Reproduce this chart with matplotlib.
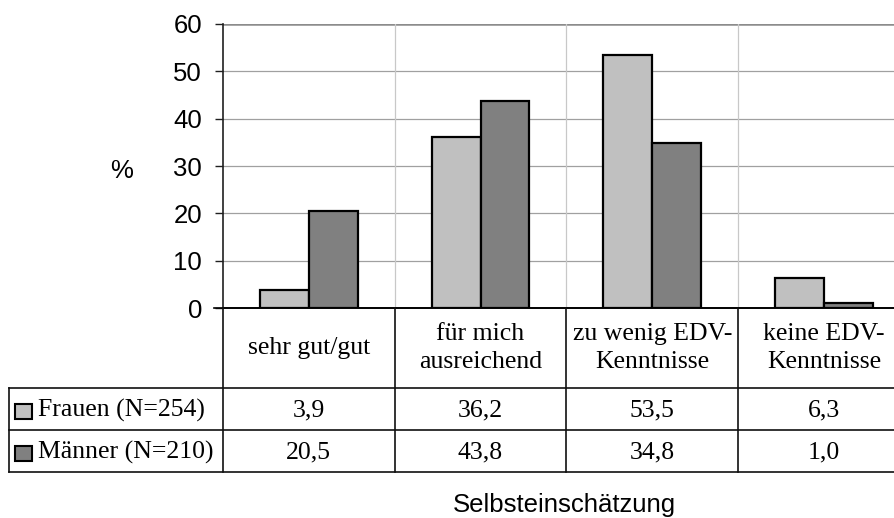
import matplotlib
matplotlib.use('Agg')
import matplotlib.pyplot as plt
from matplotlib.patches import Rectangle

# Selbsteinschätzung der EDV-Kenntnisse, Angaben in %
kategorien = ['sehr gut/gut', 'für mich\nausreichend', 'zu wenig EDV-\nKenntnisse', 'keine EDV-\nKenntnisse']
frauen = [3.9, 36.2, 53.5, 6.3]
maenner = [20.5, 43.8, 34.8, 1.0]
reihen = ['Frauen (N=254)', 'Männer (N=210)']
farben = ['#c0c0c0', '#808080']
yticks = [0, 10, 20, 30, 40, 50, 60]

W, H = 894, 518
fig = plt.figure(figsize=(W / 100, H / 100), dpi=100)

# Pixelgeometrie (von oben gemessen)
x0, x_lab = 223, 9
cat_w = 171.7
y_top, y_null, y_kopf, y_r1, y_r2 = 24, 308, 388, 430, 472
x_end = x0 + 4 * cat_w

ax = fig.add_axes([x0 / W, (H - y_null) / H, (x_end - x0) / W, (y_null - y_top) / H])
ax.set_xlim(0, 4)
ax.set_ylim(0, 60)

# Gitternetz
for v in yticks[1:-1]:
    ax.axhline(v, color='#a0a0a0', lw=0.9, zorder=0)
ax.axhline(60, color='#8c8c8c', lw=1.8, zorder=0)
for i in range(1, 4):
    ax.axvline(i, color='#c8c8c8', lw=0.9, zorder=0)

bw = 0.285
xs = [i + 0.5 for i in range(4)]
ax.bar([x - bw / 2 for x in xs], frauen, bw, color=farben[0], edgecolor='black', lw=1.6, zorder=3)
ax.bar([x + bw / 2 for x in xs], maenner, bw, color=farben[1], edgecolor='black', lw=1.6, zorder=3)

for s in ['top', 'right', 'bottom']:
    ax.spines[s].set_visible(False)
ax.spines['left'].set_color('#202020')
ax.spines['left'].set_linewidth(1.2)
ax.set_xticks([])
ax.set_yticks(yticks)
ax.tick_params(axis='y', length=6, width=1, color='#202020', pad=9,
               labelsize=18.5)
for t in ax.get_yticklabels():
    t.set_fontfamily('Liberation Sans')
ax.axhline(0, color='black', lw=1.2, zorder=4, clip_on=False)

fig.text(122 / W, 1 - 171 / H, '%', ha='center', va='center',
         fontsize=18.5, family='Liberation Sans')
fig.text((x0 + x_end) / 2 / W - 2 / W, 1 - 505 / H, 'Selbsteinschätzung', ha='center',
         va='center', fontsize=18.5, family='Liberation Sans')

# Datentabelle unter dem Diagramm
xl = -(x0 - x_lab) / cat_w
tax = fig.add_axes([x_lab / W, (H - y_r2) / H, (x_end - x_lab) / W, (y_r2 - y_null) / H])
tax.set_xlim(xl, 4)
tax.set_ylim(y_r2, y_null)
tax.axis('off')

lc = '#101010'
tax.plot([-0.05, 4], [y_null, y_null], color='black', lw=1.2, clip_on=False)
for y in [y_kopf, y_r1, y_r2]:
    tax.plot([xl, 4], [y, y], color=lc, lw=1.2, clip_on=False)
tax.plot([xl, xl], [y_kopf, y_r2], color=lc, lw=1.2, clip_on=False)
for i in range(4):
    tax.plot([i, i], [y_null, y_r2], color=lc, lw=1.2, clip_on=False)

serif = 'Liberation Serif'
fs = 18.5
for i, k in enumerate(kategorien):
    tax.text(i + 0.5, (y_null + y_kopf) / 2, k, ha='center', va='center',
             fontsize=fs, family=serif, linespacing=1.3)

zeilen = [(frauen, (y_kopf + y_r1) / 2), (maenner, (y_r1 + y_r2) / 2)]
for (werte, yc), name, fc in zip(zeilen, reihen, farben):
    for i, v in enumerate(werte):
        tax.text(i + 0.5, yc + 1, f'{v:.1f}'.replace('.', ','), ha='center',
                 va='center', fontsize=fs, family=serif)
    kw = 17 / cat_w
    tax.add_patch(Rectangle((xl + 6 / cat_w, yc - 5), kw, 15, facecolor=fc,
                            edgecolor='black', lw=1.5, clip_on=False))
    tax.text(xl + 29 / cat_w, yc + 1, name, ha='left', va='center',
             fontsize=fs, family=serif)

fig.savefig('out.png', dpi=100)
